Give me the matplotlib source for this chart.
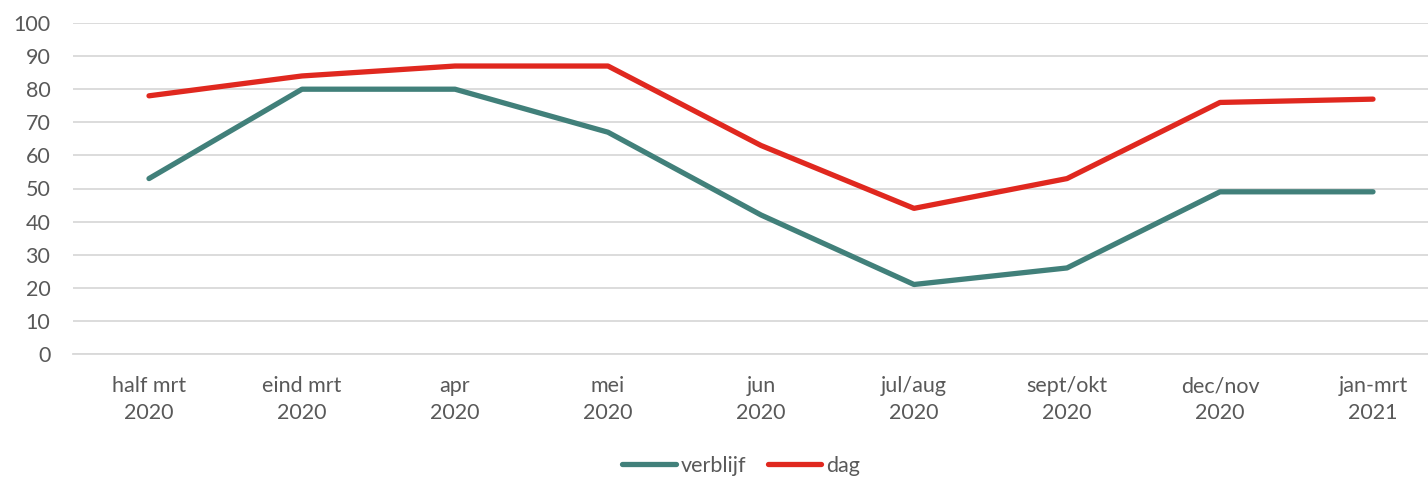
import matplotlib
matplotlib.use("Agg")
import matplotlib.pyplot as plt

categories = ["half mrt\n2020", "eind mrt\n2020", "apr\n2020", "mei\n2020", "jun\n2020",
              "jul/aug\n2020", "sept/okt\n2020", "dec/nov\n2020", "jan-mrt\n2021"]
verblijf = [53, 80, 80, 67, 42, 21, 26, 49, 49]
dag = [78, 84, 87, 87, 63, 44, 53, 76, 77]
yticks = [0, 10, 20, 30, 40, 50, 60, 70, 80, 90, 100]

plt.rcParams['font.family'] = ['Lato', 'DejaVu Sans']
W, H = 1428, 479
fig = plt.figure(figsize=(W/100, H/100), dpi=100)
left, right = 72.5, 1449.5
bottom, top = 354, 23
ax = fig.add_axes([left/W, (H-bottom)/H, (right-left)/W, (bottom-top)/H])

x = list(range(len(categories)))
ax.plot(x, verblijf, color="#41807A", lw=3.8, label="verblijf", solid_capstyle="round", solid_joinstyle="round")
ax.plot(x, dag, color="#E0281F", lw=3.8, label="dag", solid_capstyle="round", solid_joinstyle="round")

FS = 15.5
ax.set_xlim(-0.5, len(categories) - 0.5)
ax.set_ylim(0, 100)
ax.set_yticks(yticks)
ax.set_xticks(x)
ax.set_xticklabels(categories, fontsize=FS, color="#595959", linespacing=1.45)
ax.tick_params(axis="y", labelsize=FS, labelcolor="#595959", length=0, pad=16)
ax.tick_params(axis="x", length=0, pad=16)
ax.grid(axis="y", color="#D9D9D9", lw=1.3)
ax.set_axisbelow(True)
for s in ["top", "right", "left"]:
    ax.spines[s].set_visible(False)
ax.spines["bottom"].set_color("#D9D9D9")
ax.spines["bottom"].set_linewidth(1.3)

fig.legend(loc="center", bbox_to_anchor=(741/W, 1 - 466/H), ncol=2, frameon=False,
           fontsize=FS, labelcolor="#595959", handlelength=2.5, handletextpad=0.2,
           columnspacing=1.0)

fig.savefig("out.png", dpi=100)
